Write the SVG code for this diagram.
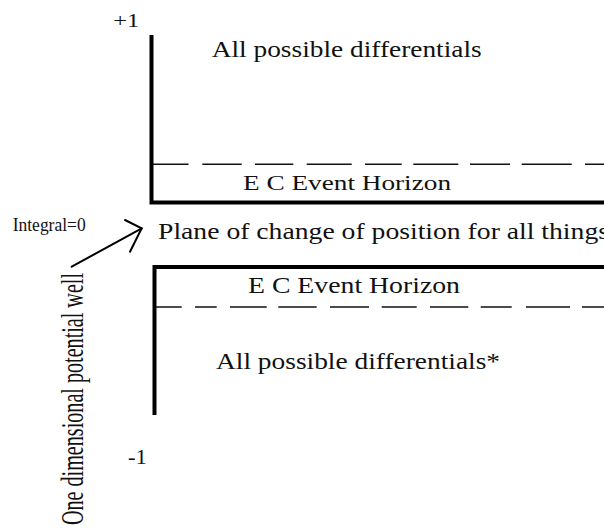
<svg xmlns="http://www.w3.org/2000/svg" width="604" height="529" viewBox="0 0 604 529">
  <style>
    .t { font-family: "Liberation Serif", "Times New Roman", serif; fill: #111; }
    .wall { fill: none; stroke: #000; stroke-width: 4; stroke-linejoin: miter; }
    .dash { fill: none; stroke: #111; stroke-width: 1.6; }
    .conn { fill: none; stroke: #000; stroke-width: 2; stroke-linecap: round; stroke-linejoin: round; }
  </style>
  <rect width="604" height="529" fill="#fff"/>

  <g id="upper-well">
    <path class="wall" d="M151.5,35 L151.5,202.5 L604,202.5"/>
    <path class="dash" d="M153,164.3 H188.5 M202.3,164.3 H241.7 M255,164.3 H293.3 M306.7,164.3 H351.7 M365,164.3 H401.7 M413.3,164.3 H458.3 M470,164.3 H510 M521.7,164.3 H571.7 M585,164.3 H604"/>
    <text class="t" x="113.3" y="27.3" font-size="18" textLength="26" lengthAdjust="spacingAndGlyphs">+1</text>
    <text class="t" x="211.7" y="56.7" font-size="22.5" textLength="270" lengthAdjust="spacingAndGlyphs">All possible differentials</text>
    <text class="t" x="243" y="189.5" font-size="21.5" textLength="208" lengthAdjust="spacingAndGlyphs">E C Event Horizon</text>
  </g>

  <g id="plane">
    <text class="t" x="158" y="238.5" font-size="24" textLength="451" lengthAdjust="spacingAndGlyphs">Plane of change of position for all things</text>
  </g>

  <g id="lower-well">
    <path class="wall" d="M154.5,415 L154.5,267 L604,267"/>
    <path class="dash" d="M155,307 H181.7 M195,307 H216.7 M230,307 H266.7 M278.3,307 H316.7 M330,307 H369 M381.7,307 H416.7 M430,307 H468.3 M480.7,307 H511.7 M526,307 H570 M582,307 H604"/>
    <text class="t" x="248" y="292.5" font-size="22.5" textLength="212" lengthAdjust="spacingAndGlyphs">E C Event Horizon</text>
    <text class="t" x="216" y="369" font-size="22.5" textLength="284" lengthAdjust="spacingAndGlyphs">All possible differentials*</text>
    <text class="t" x="128" y="464" font-size="21" textLength="19" lengthAdjust="spacingAndGlyphs">-1</text>
  </g>

  <g id="integral-label">
    <text class="t" x="12.7" y="230.7" font-size="18.5" textLength="73" lengthAdjust="spacingAndGlyphs">Integral=0</text>
  </g>

  <g id="axis-label">
    <text class="t" transform="translate(82.5,525) rotate(-90)" x="0" y="0" font-size="32" textLength="252" lengthAdjust="spacingAndGlyphs">One dimensional potential well</text>
  </g>

  <g id="connectors">
    <path class="conn" d="M71.7,266.7 L141.7,228.3"/>
    <path class="conn" d="M125,220 L141.7,228.3 L130,251.7"/>
  </g>
</svg>
